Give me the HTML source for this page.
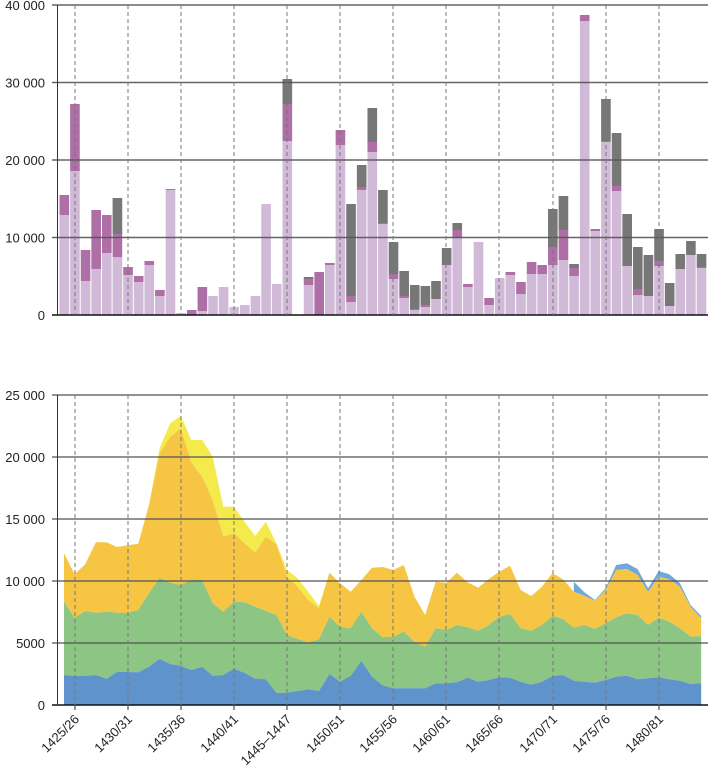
<!DOCTYPE html>
<html><head><meta charset="utf-8"><style>
body{margin:0;background:#fff;}
svg{display:block;font-family:"Liberation Sans",sans-serif;}
</style></head><body>
<svg id="s" width="708" height="779" xmlns="http://www.w3.org/2000/svg"></svg>
<script>
const s=document.getElementById('s');let h='';
const X0=59,P=10.62;
// top bars: [lightTop, purpleTop, grayTop] in px (315 baseline)
const B=[[215,195,195],[171,104,104],[281,250,250],[269,210,210],[253,215,215],[257,234,198],[275,267,267],[282,276,276],[265,261,261],[296,290,290],[190,189,189],[313,313,313],[315,310,310],[311,287,287],[296,296,296],[287,287,287],[307,307,307],[305,305,305],[296,296,296],[204,204,204],[284,284,284],[141,104,79],[315,315,315],[285,279,277],[315,272,272],[265,263,263],[145,130,130],[302,296,204],[190,187,165],[152,142,108],[224,223,190],[279,274,242],[298,296,271],[310,309,285],[307,305,286],[299,299,281],[265,265,248],[238,230,223],[287,284,284],[242,242,242],[305,298,298],[278,278,278],[275,272,272],[294,282,282],[274,262,262],[274,265,265],[265,247,209],[260,230,196],[276,268,264],[21,15,15],[231,229,229],[142,141,99],[191,186,133],[266,266,214],[295,289,247],[296,296,255],[266,261,229],[306,306,283],[269,269,254],[255,255,241],[268,267,254]];
B.forEach((b,i)=>{const x=X0+P*i+0.5,w=P-1;
 if(b[0]<315)h+=`<rect x="${x}" y="${b[0]}" width="${w}" height="${315-b[0]}" fill="#d1b9d8"/>`;
 if(b[1]<b[0])h+=`<rect x="${x}" y="${b[1]}" width="${w}" height="${b[0]-b[1]}" fill="#ad6fa6"/>`;
 if(b[2]<b[1])h+=`<rect x="${x}" y="${b[2]}" width="${w}" height="${b[1]-b[2]}" fill="#777"/>`;
});
// top grid
[['40 000',5],['30 000',82.5],['20 000',160],['10 000',237.5]].forEach(([t,y])=>{
 h+=`<line x1="52" x2="708" y1="${y}" y2="${y}" stroke="#555" stroke-width="1.5" opacity="0.9"/>`;
 h+=`<text x="45" y="${y+5}" font-size="13" text-anchor="end" fill="#222">${t}</text>`;});
h+=`<text x="45" y="320" font-size="13" text-anchor="end" fill="#222">0</text>`;
h+=`<line x1="52" x2="708" y1="315" y2="315" stroke="#111" stroke-width="1.5"/>`;
h+=`<line x1="57.5" x2="57.5" y1="5" y2="315" stroke="#333" stroke-width="1"/>`;
const V=[75,128,181,234,287,340,393,446,499,553,606,659];
V.forEach(x=>{h+=`<line x1="${x}" x2="${x}" y1="5" y2="315" stroke="#777" stroke-dasharray="4,3"/>`;});
// bottom areas: zoom y values; y=390+z/3
const A=[[855,635,490,490],[858,683,553,553],[857,663,523,523],[855,668,457,457],[866,665,457,457],[846,668,471,471],[846,669,466,466],[847,660,461,461],[830,610,345,345],[806,563,190,175],[822,578,140,100],[827,585,115,78],[840,570,218,150],[830,570,260,150],[857,640,330,200],[855,665,440,350],[836,635,430,350],[848,637,460,395],[866,650,488,438],[868,662,440,395],[908,675,463,460],[908,735,560,540],[903,747,590,565],[898,757,630,605],[903,748,655,648],[852,680,548,548],[875,710,580,580],[857,715,605,605],[812,665,570,570],[860,715,533,533],[886,742,531,531],[895,740,540,540],[895,725,525,525],[895,755,620,620],[895,770,675,675],[880,715,575,575],[880,720,578,578],[877,705,548,548],[863,712,577,577],[875,722,593,593],[870,705,567,567],[862,680,545,545],[863,672,527,527],[875,715,600,600],[884,722,618,618],[875,705,590,590],[858,677,550,550],[855,688,568,568],[872,713,605,605,575],[875,705,617,617,607],[878,717,632,632,630],[870,700,600,600,595],[860,682,540,540,525],[857,670,537,537,520],[868,675,555,555,537],[865,705,605,605,595],[862,683,560,560,543],[868,695,568,568,553],[872,715,590,590,580],[882,740,650,650,645],[880,738,685,685,678]];
const px=i=>(64+P*i).toFixed(1), py=z=>(390+z/3).toFixed(1);
function band(k,col,from,to){let top=[],bot=[];
 for(let i=from;i<=to;i++){const a=A[i];const t=a[k]!==undefined?a[k]:a[k-1];const b=k==0?945:a[k-1];top.push(px(i)+','+py(t));bot.unshift(px(i)+','+py(b));}
 h+=`<polygon points="${top.concat(bot).join(' ')}" fill="${col}"/>`;}
band(4,'#6fa8dc',48,60);
band(3,'#f4ea4c',0,60);band(2,'#f5c543',0,60);band(1,'#8dc585',0,60);band(0,'#5f93cc',0,60);
// bottom grid
[['25 000',395],['20 000',457],['15 000',519],['10 000',581],['5000',643],['0',705]].forEach(([t,y])=>{
 if(y<705)h+=`<line x1="52" x2="708" y1="${y}" y2="${y}" stroke="#555" stroke-width="1.5" opacity="0.85"/>`;
 h+=`<text x="45" y="${y+5}" font-size="13" text-anchor="end" fill="#222">${t}</text>`;});
h+=`<line x1="52" x2="708" y1="705" y2="705" stroke="#111" stroke-width="1.5"/>`;
h+=`<line x1="57.5" x2="57.5" y1="395" y2="705" stroke="#333" stroke-width="1"/>`;
const L=['1425/26','1430/31','1435/36','1440/41','1445–1447','1450/51','1455/56','1460/61','1465/66','1470/71','1475/76','1480/81'];
V.forEach((x,i)=>{h+=`<line x1="${x}" x2="${x}" y1="395" y2="705" stroke="#777" stroke-dasharray="4,3"/>`;
 h+=`<line x1="${x}" x2="${x}" y1="705" y2="710" stroke="#333"/>`;
 h+=`<text transform="translate(${x+5},720) rotate(-45)" font-size="13" text-anchor="end" fill="#222">${L[i]}</text>`;});
s.innerHTML=h;
</script>
</body></html>
